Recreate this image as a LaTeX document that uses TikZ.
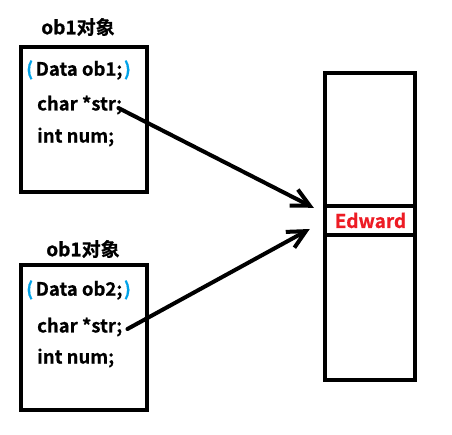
\documentclass[tikz,border=0pt]{standalone}
\usepackage{fontspec}
\setmainfont{Noto Sans CJK SC}[BoldFont={* Bold}, BoldFeatures={FakeBold=0.6}]
\usetikzlibrary{arrows.meta}
\definecolor{pblue}{RGB}{0,162,232}
\definecolor{pred}{RGB}{237,28,36}
\newcommand{\bparen}[1]{\textcolor{pblue}{#1}}
\tikzset{
  objbox/.style={draw, line width=4pt, minimum width=126pt, minimum height=145pt, inner sep=0pt},
  txt/.style={font=\bfseries\fontsize{18.5}{21}\selectfont, inner sep=0pt, anchor=west},
  lbl/.style={font=\bfseries\fontsize{19}{22}\selectfont, inner sep=0pt},
  ptr/.style={line width=4pt, line cap=round, -{Straight Barb[length=18pt,width=18pt]}}
}
\begin{document}
\begin{tikzpicture}[x=1pt,y=-1pt]
\useasboundingbox (0,0) rectangle (452,435);
% top object
\node[lbl] (t1) at (78,27) {ob1对象};
\node[objbox] (b1) at (84,119.5) {};
\node[txt] (d1) at (26,70) {\bparen{(}\kern2.5pt Data ob1;\kern1.5pt\bparen{)}};
\node[txt] (s1) at (37,105) {char *str;};
\node[txt] (n1) at (37,137) {int num;};
% bottom object
\node[lbl] (t2) at (83,249) {ob1对象};
\node[objbox] (b2) at (84,337.5) {};
\node[txt] (d2) at (26,290) {\bparen{(}\kern2.5pt Data ob2;\kern1.5pt\bparen{)}};
\node[txt] (s2) at (37,327) {char *str;};
\node[txt] (n2) at (37,358) {int num;};
% memory
\node[draw, line width=4pt, minimum width=90pt, minimum height=307pt, inner sep=0pt] (mem) at (370,226.5) {};
\node[minimum width=90pt, minimum height=29pt, inner sep=0pt, text=pred, font=\bfseries\fontsize{19}{22}\selectfont] (cell) at (370.5,220.5) {Edward};
\draw[line width=4pt] (cell.north west) -- (cell.north east);
\draw[line width=4pt] (cell.south west) -- (cell.south east);
% pointers
\coordinate (p1) at ([xshift=-4pt,yshift=-3pt]s1.east);
\coordinate (p2) at ([xshift=5pt,yshift=-2pt]s2.east);
\coordinate (q1) at ([xshift=-11.5pt,yshift=-2pt]cell.north west);
\coordinate (q2) at ([xshift=-15.5pt,yshift=-8.5pt]cell.west);
\draw[ptr] (p1) -- (q1);
\draw[ptr] (p2) -- (q2);
\end{tikzpicture}
\end{document}
